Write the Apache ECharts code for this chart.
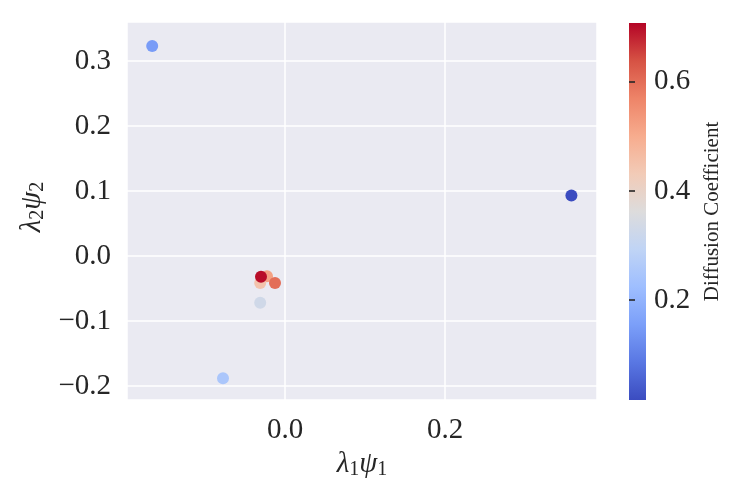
<!DOCTYPE html>
<html>
<head>
<meta charset="utf-8">
<script src="https://cdn.jsdelivr.net/npm/echarts@6/dist/echarts.min.js"></script>
<style>
  html, body { margin: 0; padding: 0; background: #fff; }
  #chart { width: 747px; height: 498px; }
</style>
</head>
<body>
<div id="chart"></div>
<script>
// embedding coordinates and diffusion coefficients
const xVals = [-0.166, 0.358, -0.0775, -0.0225, -0.031, -0.0125, -0.030, -0.031]
const yVals = [0.323, 0.093, -0.188, -0.031, -0.0415, -0.0415, -0.032, -0.072]
const diffCoef = [0.15, 0.017, 0.25, 0.52, 0.45, 0.60, 0.70, 0.33]

const cbMin = 0.0165
const cbMax = 0.708

// matplotlib coolwarm
const coolwarm = ['#3b4cc0', '#5977e3', '#7b9ff9', '#9ebeff', '#c0d4f5', '#dddcdc',
  '#f2cbb7', '#f7ac8e', '#ee8468', '#d65244', '#b40426']

const font = 'Liberation Serif'
const txt = '#262626'
const minus = v => String(v).replace('-', '\u2212')

const points = xVals.map((x, i) => [x, yVals[i], diffCoef[i]])

const chart = echarts.init(document.getElementById('chart'))

const gradStops = coolwarm.map((c, i) => ({ offset: 1 - i / (coolwarm.length - 1), color: c }))

const nameRich = {
  i: { fontFamily: font, fontStyle: 'italic', fontSize: 29, color: txt },
  s: { fontFamily: font, fontSize: 20, color: txt, padding: [11, 0, 0, 0] }
}

chart.setOption({
  animation: false,
  textStyle: { fontFamily: font },
  grid: [
    { left: 127, right: 150, top: 22, bottom: 98, show: true, backgroundColor: '#eaeaf2', borderWidth: 0 },
    {
      left: 629, width: 17, top: 23, height: 377, show: true, borderWidth: 0,
      backgroundColor: new echarts.graphic.LinearGradient(0, 0, 0, 1, gradStops)
    }
  ],
  xAxis: [{
    type: 'value', gridIndex: 0, min: -0.1975, max: 0.39, splitNumber: 3,
    axisLine: { show: false }, axisTick: { show: false },
    splitLine: { lineStyle: { color: '#ffffff', width: 1.5 } },
    axisLabel: { color: txt, fontSize: 29, fontFamily: font, margin: 16, formatter: v => minus(v.toFixed(1)), showMinLabel: false, showMaxLabel: false },
    name: '{i|λ}{s|1}{i|ψ}{s|1}', nameLocation: 'middle', nameGap: 45,
    nameTextStyle: { rich: nameRich }
  }, {
    type: 'value', gridIndex: 1, show: false, min: 0, max: 1
  }],
  yAxis: [{
    type: 'value', gridIndex: 0, min: -0.2215, max: 0.36, splitNumber: 6,
    axisLine: { show: false }, axisTick: { show: false },
    splitLine: { lineStyle: { color: '#ffffff', width: 1.5 } },
    axisLabel: { color: txt, fontSize: 29, fontFamily: font, margin: 16, formatter: v => minus(v.toFixed(1)), showMinLabel: false, showMaxLabel: false },
    name: '{i|λ}{s|2}{i|ψ}{s|2}', nameLocation: 'middle', nameGap: 74, nameRotate: 90,
    nameTextStyle: { rich: nameRich, padding: [0, 0, 0, 8] }
  }, {
    type: 'value', gridIndex: 1, position: 'right', min: cbMin, max: cbMax, splitNumber: 3,
    axisLine: { show: false }, splitLine: { show: false },
    axisTick: { show: true, inside: false, length: 6, lineStyle: { color: txt, width: 1.6 } },
    axisLabel: { color: txt, fontSize: 29, fontFamily: font, margin: 8, formatter: v => v.toFixed(1), showMinLabel: false, showMaxLabel: false },
    name: 'Diffusion Coefficient', nameLocation: 'middle', nameGap: 56, nameRotate: 90,
    nameTextStyle: { color: txt, fontSize: 21, fontFamily: font }
  }],
  visualMap: {
    show: false, type: 'continuous', min: cbMin, max: cbMax, dimension: 2, seriesIndex: 0,
    inRange: { color: coolwarm }
  },
  series: [{
    type: 'scatter', xAxisIndex: 0, yAxisIndex: 0,
    symbolSize: 12, data: points,
    itemStyle: { opacity: 1 }
  }]
})
</script>
</body>
</html>
